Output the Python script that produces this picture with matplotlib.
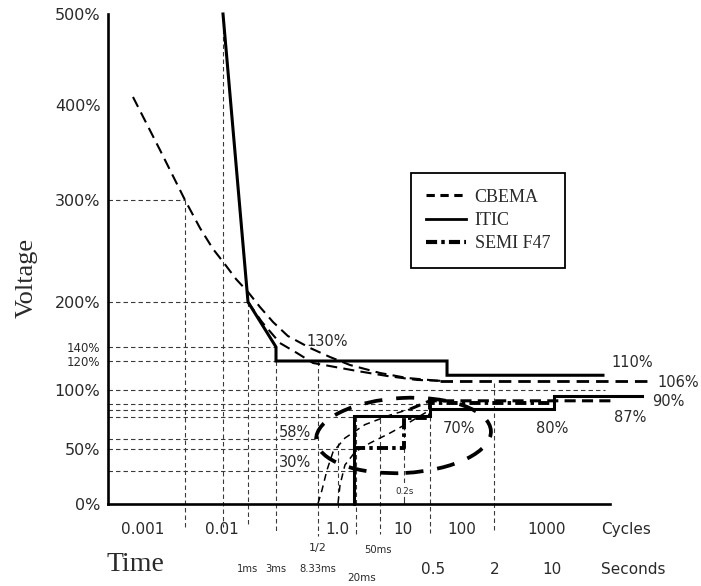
import numpy as np
import matplotlib
matplotlib.use('Agg')
import matplotlib.pyplot as plt
from matplotlib.lines import Line2D
from matplotlib.patches import Ellipse
from matplotlib.transforms import IdentityTransform

plt.rcParams['lines.scale_dashes'] = False
plt.rcParams['font.family'] = ['DejaVu Sans']

# ---------------- data (time in seconds, voltage in %) ----------------
y_tick_values = [0, 50, 100, 120, 140, 200, 300, 400, 500]
y_tick_labels = ['0%', '50%', '100%', '120%', '140%', '200%', '300%', '400%', '500%']

itic_upper_t = [1.667e-4, 1e-3, 3e-3, 3e-3, 0.723, 0.723, 55.2]
itic_upper_v = [500, 200, 140, 120, 120, 110, 110]
itic_lower_t = [0.02, 0.02, 0.5, 0.5, 10, 10, 218]
itic_lower_v = [0, 77.5, 77.5, 83.6, 83.6, 94.5, 94.5]

semi_t = [0.02, 0.2, 0.2, 0.5, 0.5, 10]
semi_v = [50.5, 50.5, 76, 76, 88.7, 88.7]

cbema_upper_t = [1.25e-5, 2.72e-5, 5.58e-5, 8.6e-5, 1.25e-4, 1.79e-4, 4.24e-4, 1e-3, 1.6e-3,
                 2.67e-3, 4.0e-3, 6.87e-3, 0.01262, 0.0191, 0.05, 0.222, 0.621, 290]
cbema_upper_v = [408.8, 352.6, 300, 272.5, 252, 238.2, 222.5, 209.8, 193.3,
                 173.3, 154.7, 138.6, 125.7, 117.2, 111.6, 108.1, 106, 106]
cbema_upper2_t = [1e-3, 1.73e-3, 3.3e-3, 5.0e-3, 7.38e-3, 0.01503, 0.0222, 0.075, 0.316, 0.692]
cbema_upper2_v = [200, 173.3, 145.3, 131.4, 118.6, 115.8, 113, 109.5, 106.7, 106]

cbema_lower_t = [8.33e-3, 9.57e-3, 0.01138, 0.0140, 0.01804, 0.0295, 0.0891, 0.247, 0.5, 78.3]
cbema_lower_v = [0, 12.4, 30.7, 47.2, 59.2, 70.5, 78.5, 83.5, 90.5, 90.5]
cbema_lower2_t = [0.01667, 0.01706, 0.01804, 0.0207, 0.0352, 0.0891, 0.247, 0.5]
cbema_lower2_v = [0, 17, 35.3, 47.2, 55, 63.4, 72.7, 82.8]

ellipse_t = [7.94e-3, 1.875]   # left, right extremes
ellipse_v = [28.0, 92.9]       # bottom, top extremes

hgrid_v = [300, 200, 140, 120, 100, 87.8, 82.8, 77.2, 58, 50, 30]
hgrid_t_end = [5.58e-5, 1e-3, 3e-3, 3e-3, 59.3, 0.5, 0.5, 0.02, 8.33e-3, 0.02, 0.02]
vgrid_t = [5.58e-5, 1.667e-4, 1e-3, 3e-3, 8.33e-3, 0.01667, 0.0215, 0.05, 0.2, 0.5, 2]
vgrid_top = [300, 500, 200, 120, 120, 55, 77, 75, 76, 84, 104.6]
vgrid_bot = [-22, -22, -22, -27, -30, -5, -28, -28, 17, -27, -27]

cycle_labels = ['0.001', '0.01', '1.0', '10', '100', '1000', 'Cycles']
cycle_label_t = [1.667e-5, 1.6e-4, 0.0161, 0.189, 1.0, 8.28, 124]
second_labels = ['0.5', '2', '10', 'Seconds']
second_label_t = [0.534, 2.05, 9.48, 158.5]
ms_labels = ['1ms', '3ms', '8.33ms']
ms_label_t = [9.6e-4, 3e-3, 8.33e-3]

value_labels = ['130%', '110%', '90%', '87%', '80%', '70%', '58%', '30%']
value_label_t = [0.01138, 153, 547, 142.6, 9.48, 0.938, 4.77e-3, 4.77e-3]
value_label_v = [148, 118.6, 89.5, 76.1, 67.6, 67.6, 64.2, 37.2]

T_AXIS_START = 6.1e-6
T_AXIS_END = 70.5

# ---------------- schematic scales ----------------
LOGK = np.log10([1e-7, 1.667e-5, 1.667e-4, 1e-3, 3e-3, 8.33e-3, 1.667e-2, 0.02, 0.05,
                 0.2, 0.5, 2, 10, 100, 1e4])
PXK = np.array([-34.8, 143, 223, 248, 276, 318, 338, 354, 380, 404, 430, 494, 554, 620, 750])
VK = np.array([-100, 0, 50, 100, 120, 140, 200, 300, 400, 500, 600])
PYK = 586 - np.array([612.5, 503.5, 449, 389.5, 361, 347, 302, 200, 105, 14, -77])


def fx(t):
    t = np.asarray(t, dtype=float)
    return np.interp(np.log10(np.clip(t, 1e-12, None)), LOGK, PXK)


def ifx(p):
    return 10 ** np.interp(np.asarray(p, dtype=float), PXK, LOGK)


def fy(v):
    return np.interp(np.asarray(v, dtype=float), VK, PYK)


def ify(p):
    return np.interp(np.asarray(p, dtype=float), PYK, VK)


fig = plt.figure(figsize=(7.01, 5.86), dpi=100)
ax = fig.add_axes([0, 0, 1, 1])
ax.set_xscale('function', functions=(fx, ifx))
ax.set_yscale('function', functions=(fy, ify))
ax.set_xlim(float(ifx(0)), float(ifx(701)))
ax.set_ylim(float(ify(0)), float(ify(586)))

TXT = '#2a2a2a'
GRID = '#3a3a3a'

# axes lines
for s in ['top', 'right']:
    ax.spines[s].set_visible(False)
ax.spines['left'].set_position(('data', T_AXIS_START))
ax.spines['left'].set_bounds(0, 500)
ax.spines['bottom'].set_position(('data', 0))
ax.spines['bottom'].set_bounds(T_AXIS_START, T_AXIS_END)
for s in ['left', 'bottom']:
    ax.spines[s].set_linewidth(1.9)
    ax.spines[s].set_zorder(6)
ax.set_xticks([])
ax.set_yticks(y_tick_values, y_tick_labels)
ax.tick_params(axis='y', length=0, pad=5.5, labelsize=11.5, labelcolor=TXT)
for lab, v in zip(ax.get_yticklabels(), y_tick_values):
    if v in (120, 140):
        lab.set_fontsize(8.5)
ax.minorticks_off()

# grid lines
gkw = dict(color=GRID, lw=0.8, dashes=(3.2, 2.2), zorder=1)
for v, te in zip(hgrid_v, hgrid_t_end):
    ax.plot([T_AXIS_START, te], [v, v], **gkw)
for t, vt, vb in zip(vgrid_t, vgrid_top, vgrid_bot):
    ax.plot([t, t], [vt, vb], **gkw)
ax.plot([0.2, 0.2], [6, 0], color=GRID, lw=0.8, zorder=1)

# curves
ax.plot(cbema_upper_t[:-1], cbema_upper_v[:-1], color='black', lw=1.5, dashes=(8, 4.5), zorder=3)
ax.plot(cbema_upper2_t, cbema_upper2_v, color='black', lw=1.5, dashes=(8, 4.5), zorder=3)
ax.plot(cbema_lower_t[:-2], cbema_lower_v[:-2], color='black', lw=1.1, dashes=(5, 3.5), zorder=3)
ax.plot(cbema_lower_t[-3:], cbema_lower_v[-3:], color='black', lw=2.2, dashes=(8, 4.5), zorder=3)
ax.plot(cbema_lower2_t, cbema_lower2_v, color='black', lw=1.1, dashes=(5, 3.5), zorder=3)
ax.plot(cbema_upper_t[-2:], cbema_upper_v[-2:], color='black', lw=2.0, dashes=(9, 5), zorder=3)

ax.plot(itic_upper_t, itic_upper_v, color='black', lw=2.2, zorder=4, solid_joinstyle='miter')
ax.plot(itic_lower_t, itic_lower_v, color='black', lw=2.2, zorder=4, solid_joinstyle='miter')

ax.plot(semi_t, semi_v, color='black', lw=2.8, dashes=(8, 3, 2.5, 3), zorder=5)

# highlighted region (thick dashed ellipse)
fig.canvas.draw()
p_left = ax.transData.transform((ellipse_t[0], ellipse_v[0]))
p_right = ax.transData.transform((ellipse_t[1], ellipse_v[1]))
cx = (p_left[0] + p_right[0]) / 2
cy = (p_left[1] + p_right[1]) / 2
w = p_right[0] - p_left[0]
h = p_right[1] - p_left[1]
ell = Ellipse((cx, cy), w, h, angle=3, transform=IdentityTransform(), fill=False,
              edgecolor='black', lw=2.7, linestyle=(0, (13, 10)), zorder=5)
ax.add_artist(ell)

# legend
handles = [Line2D([], [], color='black', lw=2.2, dashes=(6, 4)),
           Line2D([], [], color='black', lw=2.0),
           Line2D([], [], color='black', lw=3.0, dashes=(8, 3, 2.5, 3))]
leg = ax.legend(handles, ['CBEMA', 'ITIC', 'SEMI F47'], loc='center',
                bbox_to_anchor=(488 / 701, 1 - 220.5 / 586), bbox_transform=fig.transFigure,
                prop={'family': 'Liberation Serif', 'size': 13}, frameon=True, fancybox=False,
                edgecolor='black', framealpha=1, borderpad=0.85, labelspacing=0.35,
                handlelength=2.2, handletextpad=0.5, borderaxespad=0)
leg.get_frame().set_linewidth(1.3)
for t in leg.get_texts():
    t.set_color(TXT)

# axis titles
ax.text(27 / 701, 1 - 278 / 586, 'Voltage', transform=ax.transAxes, rotation=90,
        ha='center', va='center', family='Liberation Serif', fontsize=19, color=TXT)
ax.text(1.33e-5, -56.4, 'Time', ha='center', va='center', family='Liberation Serif',
        fontsize=20, color=TXT)

# x-row labels
for s, t in zip(cycle_labels, cycle_label_t):
    ax.text(t, -24.3, s, ha='center', va='center', fontsize=11, color=TXT)
for s, t in zip(second_labels, second_label_t):
    ax.text(t, -61, s, ha='center', va='center', fontsize=11, color=TXT)
for s, t in zip(ms_labels, ms_label_t):
    ax.text(t, -60.1, s, ha='center', va='center', fontsize=7.2, color=TXT)
ax.text(0.0265, -68.3, '20ms', ha='center', va='center', fontsize=7.5, color=TXT)
ax.text(8.33e-3, -40.8, '1/2', ha='center', va='center', fontsize=8, color=TXT)
ax.text(0.0466, -42.7, '50ms', ha='center', va='center', fontsize=7.2, color=TXT)
ax.text(0.207, 10.6, '0.2s', ha='center', va='center', fontsize=6.3, color=TXT)

for s, t, v in zip(value_labels, value_label_t, value_label_v):
    ax.text(t, v, s, ha='center', va='center', fontsize=10.5, color=TXT, zorder=7)
ax.text(371, 104.6, '106%', ha='left', va='center', fontsize=10.5, color=TXT)

fig.savefig('out.png', dpi=100)
